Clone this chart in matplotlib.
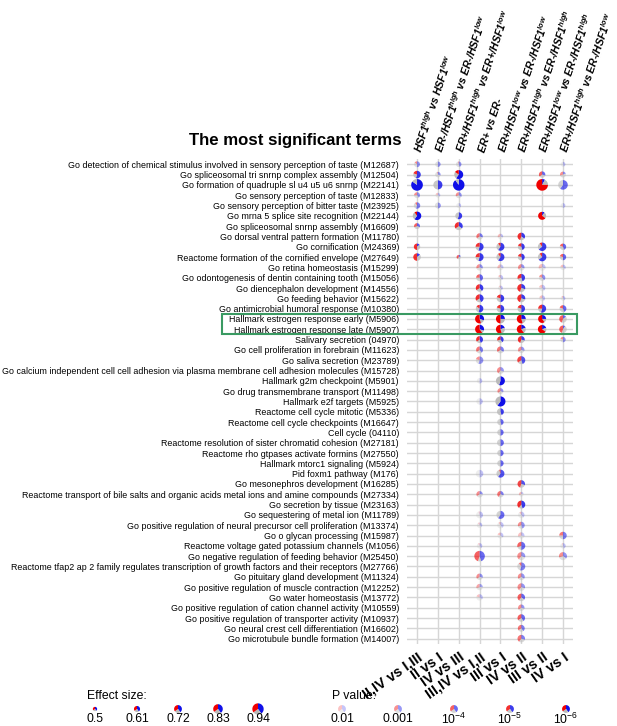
import numpy as np
import matplotlib
matplotlib.use("Agg")
import matplotlib.pyplot as plt
from matplotlib.patches import Wedge, Rectangle
from matplotlib.transforms import ScaledTranslation, blended_transform_factory
from matplotlib import font_manager

# ---------------- data ----------------
terms = [
    "Go detection of chemical stimulus involved in sensory perception of taste (M12687)",
    "Go spliceosomal tri snrnp complex assembly (M12504)",
    "Go formation of quadruple sl u4 u5 u6 snrnp (M22141)",
    "Go sensory perception of taste (M12833)",
    "Go sensory perception of bitter taste (M23925)",
    "Go mrna 5 splice site recognition (M22144)",
    "Go spliceosomal snrnp assembly (M16609)",
    "Go dorsal ventral pattern formation (M11780)",
    "Go cornification (M24369)",
    "Reactome formation of the cornified envelope (M27649)",
    "Go retina homeostasis (M15299)",
    "Go odontogenesis of dentin containing tooth (M15056)",
    "Go diencephalon development (M14556)",
    "Go feeding behavior (M15622)",
    "Go antimicrobial humoral response (M10380)",
    "Hallmark estrogen response early (M5906)",
    "Hallmark estrogen response late (M5907)",
    "Salivary secretion (04970)",
    "Go cell proliferation in forebrain (M11623)",
    "Go saliva secretion (M23789)",
    "Go calcium independent cell cell adhesion via plasma membrane cell adhesion molecules (M15728)",
    "Hallmark g2m checkpoint (M5901)",
    "Go drug transmembrane transport (M11498)",
    "Hallmark e2f targets (M5925)",
    "Reactome cell cycle mitotic (M5336)",
    "Reactome cell cycle checkpoints (M16647)",
    "Cell cycle (04110)",
    "Reactome resolution of sister chromatid cohesion (M27181)",
    "Reactome rho gtpases activate formins (M27550)",
    "Hallmark mtorc1 signaling (M5924)",
    "Pid foxm1 pathway (M176)",
    "Go mesonephros development (M16285)",
    "Reactome transport of bile salts and organic acids metal ions and amine compounds (M27334)",
    "Go secretion by tissue (M23163)",
    "Go sequestering of metal ion (M11789)",
    "Go positive regulation of neural precursor cell proliferation (M13374)",
    "Go o glycan processing (M15987)",
    "Reactome voltage gated potassium channels (M1056)",
    "Go negative regulation of feeding behavior (M25450)",
    "Reactome tfap2 ap 2 family regulates transcription of growth factors and their receptors (M27766)",
    "Go pituitary gland development (M11324)",
    "Go positive regulation of muscle contraction (M12252)",
    "Go water homeostasis (M13772)",
    "Go positive regulation of cation channel activity (M10559)",
    "Go positive regulation of transporter activity (M10937)",
    "Go neural crest cell differentiation (M16602)",
    "Go microtubule bundle formation (M14007)",
]

top_labels = [
    "HSF1$^{high}$ vs HSF1$^{low}$",
    "ER-/HSF1$^{high}$ vs ER-/HSF1$^{low}$",
    "ER+/HSF1$^{high}$ vs ER+/HSF1$^{low}$",
    "ER+ vs ER-",
    "ER+/HSF1$^{low}$ vs ER-/HSF1$^{low}$",
    "ER+/HSF1$^{high}$ vs ER-/HSF1$^{high}$",
    "ER+/HSF1$^{low}$ vs ER-/HSF1$^{high}$",
    "ER+/HSF1$^{high}$ vs ER-/HSF1$^{low}$",
]
bottom_labels = ["II,IV vs I,III", "II vs I", "IV vs III", "III,IV vs I,II",
                 "III vs I", "IV vs II", "III vs II", "IV vs I"]

# each entry: (term number, effect size, blue share, red share, p value)
col_hsf1 = [(1, 0.60, 0.50, 0.15, 1e-3), (2, 0.70, 0.55, 0.20, 1e-5), (3, 0.96, 0.85, 0.0, 1e-6),
            (4, 0.60, 0.40, 0.25, 1e-3), (5, 0.63, 0.55, 0.10, 3e-4), (6, 0.76, 0.60, 0.10, 1e-6),
            (7, 0.60, 0.30, 0.30, 1e-4), (9, 0.63, 0.15, 0.50, 1e-5), (10, 0.70, 0.15, 0.50, 1e-5)]
col_erneg_hsf1 = [(1, 0.57, 0.50, 0.0, 1e-3), (2, 0.57, 0.30, 0.05, 1e-3), (3, 0.80, 0.50, 0.0, 1e-5),
                  (4, 0.53, 0.35, 0.20, 0.01), (5, 0.60, 0.50, 0.0, 1e-3)]
col_erpos_hsf1 = [(1, 0.57, 0.45, 0.05, 1e-3), (2, 0.79, 0.60, 0.15, 1e-6), (3, 0.95, 0.90, 0.0, 1e-6),
                  (4, 0.60, 0.35, 0.30, 1e-3), (5, 0.53, 0.40, 0.0, 0.01), (6, 0.66, 0.55, 0.0, 1e-5),
                  (7, 0.73, 0.35, 0.35, 1e-5), (10, 0.50, 0.20, 0.40, 1e-4)]
col_er = [(8, 0.63, 0.30, 0.35, 3e-4), (9, 0.73, 0.55, 0.25, 1e-5), (10, 0.73, 0.55, 0.25, 1e-5),
          (11, 0.63, 0.30, 0.30, 1e-3), (12, 0.66, 0.45, 0.25, 1e-4), (13, 0.70, 0.40, 0.35, 1e-5),
          (14, 0.73, 0.45, 0.35, 1e-5), (15, 0.70, 0.55, 0.15, 1e-5), (16, 0.79, 0.30, 0.55, 1e-6),
          (17, 0.79, 0.30, 0.60, 1e-6), (18, 0.66, 0.45, 0.35, 1e-5), (19, 0.66, 0.40, 0.35, 3e-4),
          (20, 0.70, 0.55, 0.20, 1e-3), (22, 0.57, 0.50, 0.0, 0.01), (24, 0.63, 0.50, 0.0, 0.01),
          (31, 0.70, 0.50, 0.0, 0.01), (33, 0.63, 0.25, 0.35, 1e-3), (35, 0.66, 0.45, 0.05, 0.01),
          (36, 0.57, 0.35, 0.10, 0.01), (38, 0.57, 0.40, 0.10, 0.01), (39, 0.89, 0.45, 0.45, 1e-4),
          (41, 0.63, 0.30, 0.35, 1e-3), (42, 0.63, 0.25, 0.30, 3e-3), (43, 0.63, 0.35, 0.20, 0.01)]
col_low_low = [(8, 0.57, 0.30, 0.30, 0.01), (9, 0.73, 0.60, 0.10, 1e-5), (10, 0.73, 0.60, 0.10, 1e-5),
               (11, 0.60, 0.30, 0.30, 0.01), (12, 0.57, 0.40, 0.15, 0.01), (13, 0.53, 0.40, 0.10, 0.01),
               (14, 0.70, 0.50, 0.20, 1e-5), (15, 0.70, 0.50, 0.20, 1e-5), (16, 0.79, 0.25, 0.50, 1e-6),
               (17, 0.79, 0.20, 0.55, 1e-6), (18, 0.63, 0.40, 0.30, 1e-5), (19, 0.66, 0.35, 0.35, 3e-4),
               (21, 0.66, 0.30, 0.40, 1e-3), (22, 0.79, 0.55, 0.0, 1e-6), (23, 0.60, 0.30, 0.35, 1e-3),
               (24, 0.86, 0.60, 0.0, 1e-6), (25, 0.66, 0.45, 0.0, 1e-5), (26, 0.63, 0.45, 0.0, 1e-4),
               (27, 0.63, 0.50, 0.0, 1e-4), (28, 0.66, 0.50, 0.0, 1e-4), (29, 0.63, 0.50, 0.0, 1e-4),
               (30, 0.63, 0.50, 0.0, 1e-4), (31, 0.73, 0.60, 0.05, 3e-5), (33, 0.63, 0.30, 0.40, 3e-4),
               (35, 0.73, 0.60, 0.0, 1e-4), (36, 0.63, 0.40, 0.10, 0.01), (37, 0.60, 0.35, 0.20, 0.01)]
col_high_high = [(8, 0.70, 0.35, 0.45, 1e-5), (9, 0.66, 0.45, 0.20, 1e-5), (10, 0.66, 0.45, 0.20, 1e-5),
                 (11, 0.63, 0.30, 0.35, 1e-3), (12, 0.70, 0.45, 0.30, 1e-5), (13, 0.73, 0.30, 0.45, 1e-5),
                 (14, 0.73, 0.30, 0.45, 1e-5), (15, 0.70, 0.50, 0.20, 1e-5), (16, 0.79, 0.25, 0.55, 1e-6),
                 (17, 0.79, 0.20, 0.60, 1e-6), (18, 0.66, 0.30, 0.45, 1e-5), (19, 0.63, 0.30, 0.35, 1e-3),
                 (20, 0.73, 0.45, 0.35, 3e-5), (32, 0.70, 0.30, 0.45, 3e-5), (33, 0.53, 0.20, 0.30, 0.01),
                 (34, 0.73, 0.45, 0.40, 1e-5), (35, 0.63, 0.40, 0.10, 0.01), (36, 0.66, 0.45, 0.30, 1e-3),
                 (37, 0.63, 0.30, 0.30, 0.01), (38, 0.73, 0.50, 0.30, 1e-4), (39, 0.73, 0.30, 0.40, 1e-3),
                 (40, 0.73, 0.55, 0.10, 3e-4), (41, 0.66, 0.35, 0.35, 1e-3), (42, 0.70, 0.30, 0.40, 1e-3),
                 (43, 0.70, 0.35, 0.40, 1e-4), (44, 0.63, 0.30, 0.35, 1e-3), (45, 0.70, 0.40, 0.35, 1e-4),
                 (46, 0.66, 0.40, 0.35, 3e-4), (47, 0.70, 0.30, 0.40, 3e-4)]
col_low_high = [(2, 0.63, 0.30, 0.35, 1e-4), (3, 0.96, 0.08, 0.75, 1e-6), (6, 0.73, 0.10, 0.65, 1e-6),
                (9, 0.76, 0.65, 0.10, 1e-5), (10, 0.76, 0.65, 0.10, 1e-5), (11, 0.66, 0.30, 0.30, 0.01),
                (12, 0.63, 0.40, 0.20, 1e-3), (13, 0.63, 0.40, 0.20, 0.01), (14, 0.60, 0.40, 0.20, 0.01),
                (15, 0.73, 0.55, 0.25, 1e-5), (16, 0.73, 0.25, 0.60, 1e-6), (17, 0.76, 0.20, 0.65, 1e-6)]
col_high_low = [(1, 0.53, 0.45, 0.0, 0.01), (2, 0.60, 0.20, 0.30, 1e-3), (3, 0.83, 0.60, 0.0, 1e-4),
                (5, 0.53, 0.50, 0.0, 0.01), (9, 0.63, 0.45, 0.20, 1e-4), (10, 0.63, 0.50, 0.20, 1e-4),
                (11, 0.57, 0.35, 0.20, 0.01), (14, 0.53, 0.40, 0.10, 0.01), (15, 0.66, 0.45, 0.20, 1e-4),
                (16, 0.70, 0.15, 0.45, 1e-4), (17, 0.70, 0.10, 0.45, 1e-4), (18, 0.57, 0.50, 0.20, 1e-3),
                (37, 0.70, 0.50, 0.25, 3e-4), (38, 0.57, 0.45, 0.05, 0.01), (39, 0.73, 0.35, 0.30, 1e-3)]
columns = [col_hsf1, col_erneg_hsf1, col_erpos_hsf1, col_er,
           col_low_low, col_high_high, col_low_high, col_high_low]

legend_effect = [0.5, 0.61, 0.72, 0.83, 0.94]
legend_effect_labels = ["0.5", "0.61", "0.72", "0.83", "0.94"]
legend_p = [0.01, 0.001, 1e-4, 1e-5, 1e-6]
legend_p_labels = ["0.01", "0.001", "$10^{-4}$", "$10^{-5}$", "$10^{-6}$"]

# ---------------- style ----------------
names = {f.name for f in font_manager.fontManager.ttflist}
FAM = "Liberation Sans Narrow" if "Liberation Sans Narrow" in names else "Liberation Sans"
plt.rcParams["font.family"] = [FAM, "DejaVu Sans"]
plt.rcParams["mathtext.fontset"] = "custom"
plt.rcParams["mathtext.rm"] = FAM
plt.rcParams["mathtext.it"] = FAM + ":italic:bold"
plt.rcParams["mathtext.bf"] = FAM + ":bold"

BLUE = "#1010e8"
RED = "#f00000"
GRAY = "#bababa"
GRIDC = "#d6d6d6"
DPI = 100
W, H = 617, 726


def diam_px(es):
    return 4.3 + (es - 0.5) * 16.0


def alpha_of(p):
    v = (-np.log10(p) - 2.0) / 4.0
    return float(np.clip(0.24 + 0.76 * v, 0.24, 1.0))


fig = plt.figure(figsize=(W / DPI, H / DPI), dpi=DPI)
renderer = fig.canvas.get_renderer()


def fit(s, target, **kw):
    t = fig.text(0, 0, s, fontsize=10, **kw)
    w = t.get_window_extent(renderer=renderer).width
    t.remove()
    return 10 * target / w


def draw_pie(x, y, base, es, blue, red, alpha, container):
    r = diam_px(es) / 2 / DPI
    gray = max(0.0, 1.0 - blue - red)
    start = 90.0
    tr = fig.dpi_scale_trans + ScaledTranslation(x, y, base)
    for frac, col in ((blue, BLUE), (gray, GRAY), (red, RED)):
        if frac <= 0:
            continue
        end = start - 360.0 * frac
        w = Wedge((0, 0), r, end, start, facecolor=col, edgecolor="none",
                  alpha=alpha, transform=tr, clip_on=False, zorder=3)
        container.add_artist(w)
        start = end


left_px, right_px = 406.6, 573.4
top_px, bot_px = 159.1, 643.8
ax = fig.add_axes([left_px / W, 1 - bot_px / H, (right_px - left_px) / W, (bot_px - top_px) / H])
ax.set_xlim(-0.5, 7.5)
ax.set_ylim(len(terms) - 0.5, -0.5)
for i in range(len(terms)):
    ax.axhline(i, color=GRIDC, lw=1.0, zorder=0)
for j in range(len(columns)):
    ax.axvline(j, color=GRIDC, lw=1.0, zorder=0)
for s in ax.spines.values():
    s.set_visible(False)
ax.set_xticks([])
ax.set_yticks(range(len(terms)))
fs_lab = fit(terms[20], 397, family=FAM)
ax.set_yticklabels(terms, fontsize=fs_lab, family=FAM)
ax.tick_params(axis="y", length=0, pad=5.5)

for j, col in enumerate(columns):
    for (row, es, blue, red, p) in col:
        draw_pie(j, row - 1, ax.transData, es, blue, red, alpha_of(p), ax)

# title
fs_title = fit("The most significant terms", 214, family=FAM, weight="bold")
fig.text(402 / W, 1 - 141 / H, "The most significant terms", ha="right", va="center",
         fontsize=fs_title, weight="bold", family=FAM)

# column headers
bt = blended_transform_factory(ax.transData, fig.transFigure)
fs_top = fit(top_labels[7], 146, family=FAM, weight="bold", style="italic")
for j, lab in enumerate(top_labels):
    fig.text(j + 0.25, 1 - 153 / H, lab, transform=bt, rotation=71.5, rotation_mode="anchor",
             ha="left", va="baseline", fontsize=fs_top, weight="bold", style="italic", family=FAM)

fs_bot = fit(bottom_labels[3], 68, family=FAM, weight="bold")
for j, lab in enumerate(bottom_labels):
    fig.text(j + 0.02, 1 - 650 / H, lab, transform=bt, rotation=35, rotation_mode="anchor",
             ha="right", va="top", fontsize=fs_bot, weight="bold", family=FAM)

# highlight box
bt2 = blended_transform_factory(fig.transFigure, ax.transData)
fig.add_artist(Rectangle((222 / W, 16.5), (577 - 222) / W, -2.0, transform=bt2, fill=False,
                         edgecolor="#3a9a62", lw=1.5, clip_on=False))

# legends
fs_leg = fit("Effect size:", 60, family=FAM)
fig.text(87 / W, 1 - 696 / H, "Effect size:", ha="left", va="center", fontsize=fs_leg, family=FAM)
ex = [95, 137, 178, 218, 258]
for x, es, lab in zip(ex, legend_effect, legend_effect_labels):
    draw_pie(x / DPI, (H - 709) / DPI, fig.dpi_scale_trans, es, 0.4, 0.35, 1.0, fig)
    fig.text(x / W, 1 - 719 / H, lab, ha="center", va="center", fontsize=fs_leg, family=FAM)

fig.text(332 / W, 1 - 696 / H, "P value:", ha="left", va="center", fontsize=fs_leg, family=FAM)
px = [342, 398, 454, 510, 566]
for x, p, lab in zip(px, legend_p, legend_p_labels):
    draw_pie(x / DPI, (H - 709) / DPI, fig.dpi_scale_trans, 0.72, 0.4, 0.35, alpha_of(p), fig)
    fig.text(x / W, 1 - 719 / H, lab, ha="center", va="center", fontsize=fs_leg, family=FAM)

fig.savefig("out.png", dpi=DPI)
